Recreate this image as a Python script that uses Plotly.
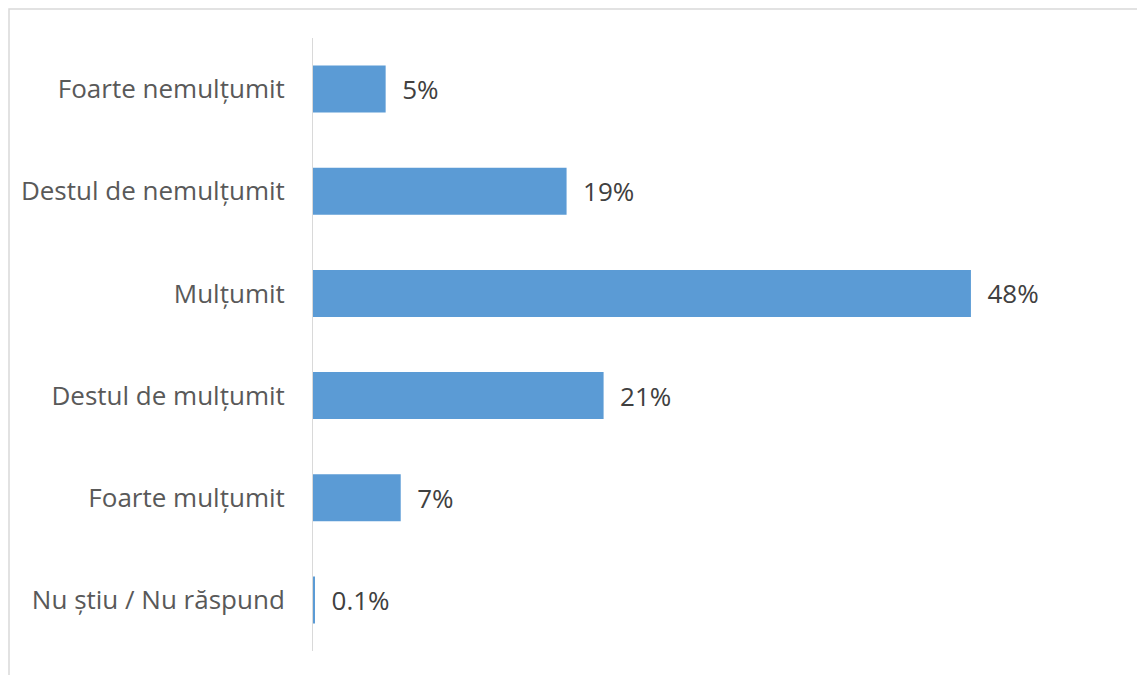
import plotly.graph_objects as go

categories = ["Foarte nemulțumit", "Destul de nemulțumit", "Mulțumit",
              "Destul de mulțumit", "Foarte mulțumit", "Nu știu / Nu răspund"]
values = [5.3, 18.5, 48.0, 21.2, 6.4, 0.1]
labels = ["5%", "19%", "48%", "21%", "7%", "0.1%"]

L, R, T, B = 305, 45, 30, 32
W, H = 1145, 675
pw, ph = W - L - R, H - T - B

fig = go.Figure(go.Bar(
    y=categories, x=values, orientation="h",
    marker=dict(color="#5B9BD5", line=dict(width=0)),
    width=0.46,
    text=["  " + t for t in labels], textposition="outside",
    textfont=dict(family="Open Sans", size=26, color="#404040"),
    cliponaxis=False,
))

fig.update_layout(
    width=W, height=H,
    margin=dict(l=L, r=R, t=T, b=B),
    paper_bgcolor="white", plot_bgcolor="white",
    showlegend=False,
    xaxis=dict(range=[0, 58], visible=False, showgrid=False, zeroline=False),
    yaxis=dict(autorange="reversed", showline=True, linecolor="#D9D9D9", linewidth=1,
               ticks="", ticklabelstandoff=22,
               tickfont=dict(family="Open Sans", size=26, color="#595959")),
    shapes=[dict(type="rect", xref="paper", yref="paper",
                 x0=(1 - L) / pw, x1=1 + (R + 20) / pw,
                 y0=-(B + 20) / ph, y1=1 + (T - 1) / ph,
                 line=dict(color="#D9D9D9", width=1.5), fillcolor="rgba(0,0,0,0)")],
)

fig.write_html("out.html")
